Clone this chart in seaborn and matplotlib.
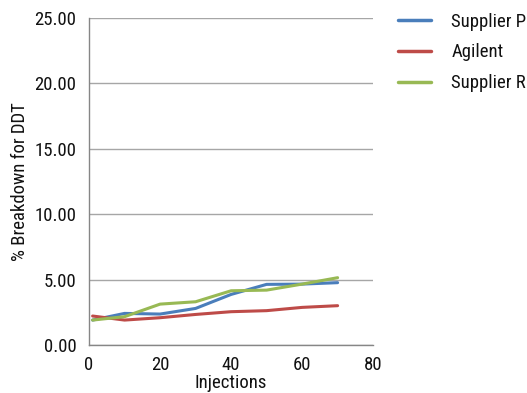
import matplotlib
matplotlib.use('Agg')
import matplotlib.pyplot as plt
import pandas as pd
import seaborn as sns
from matplotlib import font_manager

# Values
injections = [1, 10, 20, 30, 40, 50, 60, 70]
supplier_p = [1.91, 2.42, 2.37, 2.80, 3.87, 4.64, 4.66, 4.77]
agilent = [2.22, 1.91, 2.09, 2.34, 2.55, 2.63, 2.88, 3.01]
supplier_r = [1.91, 2.17, 3.13, 3.31, 4.15, 4.20, 4.66, 5.15]
series_names = ['Supplier P', 'Agilent', 'Supplier R']
x_ticks = [0, 20, 40, 60, 80]
y_ticks = [0, 5, 10, 15, 20, 25]

df = pd.DataFrame({
    'Injections': injections * 3,
    'Breakdown': supplier_p + agilent + supplier_r,
    'Series': [series_names[0]] * 8 + [series_names[1]] * 8 + [series_names[2]] * 8,
})

sns.set_style('white')
names = {f.name for f in font_manager.fontManager.ttflist}
family = 'DejaVu Sans'
for cand in ['Roboto Condensed', 'Liberation Sans Narrow', 'Open Sans Condensed', 'Roboto']:
    if cand in names:
        family = cand
        break
plt.rcParams['font.family'] = [family, 'DejaVu Sans']

palette = {'Supplier P': '#4a7ebb', 'Agilent': '#be4b48', 'Supplier R': '#98b954'}
fs = 13.5

fig = plt.figure(figsize=(5.27, 3.93), dpi=100)
ax = fig.add_axes([0.169, 0.122, 0.539, 0.832])
sns.lineplot(data=df, x='Injections', y='Breakdown', hue='Series', palette=palette,
             linewidth=2.2, ax=ax, legend=True)

ax.set_xlim(0, 80)
ax.set_ylim(0, 25)
ax.set_xticks(x_ticks)
ax.set_yticks(y_ticks)
ax.set_yticklabels([f'{v:.2f}' for v in y_ticks])
ax.yaxis.grid(True, color='#a6a6a6', linewidth=1)
ax.xaxis.grid(False)
ax.set_axisbelow(True)
for side in ['top', 'right']:
    ax.spines[side].set_visible(False)
for side in ['left', 'bottom']:
    ax.spines[side].set_color('#868686')
    ax.spines[side].set_linewidth(1)
ax.tick_params(axis='y', length=0, labelsize=fs, colors='#111111', pad=9)
ax.tick_params(axis='x', length=0, labelsize=fs, colors='#111111', pad=8)
ax.set_xlabel('Injections', fontsize=fs, labelpad=0, color='#111111')
ax.set_ylabel('% Breakdown for DDT', fontsize=fs, labelpad=4, color='#111111')

leg = ax.legend(loc='upper left', bbox_to_anchor=(0.755, 0.968), bbox_transform=fig.transFigure,
                frameon=False, fontsize=fs, handlelength=1.75, handletextpad=1.1,
                labelspacing=0.68, borderpad=0, borderaxespad=0)
for line in leg.get_lines():
    line.set_linewidth(2.5)
for t in leg.get_texts():
    t.set_color('#111111')

fig.savefig('out.png', dpi=100)
